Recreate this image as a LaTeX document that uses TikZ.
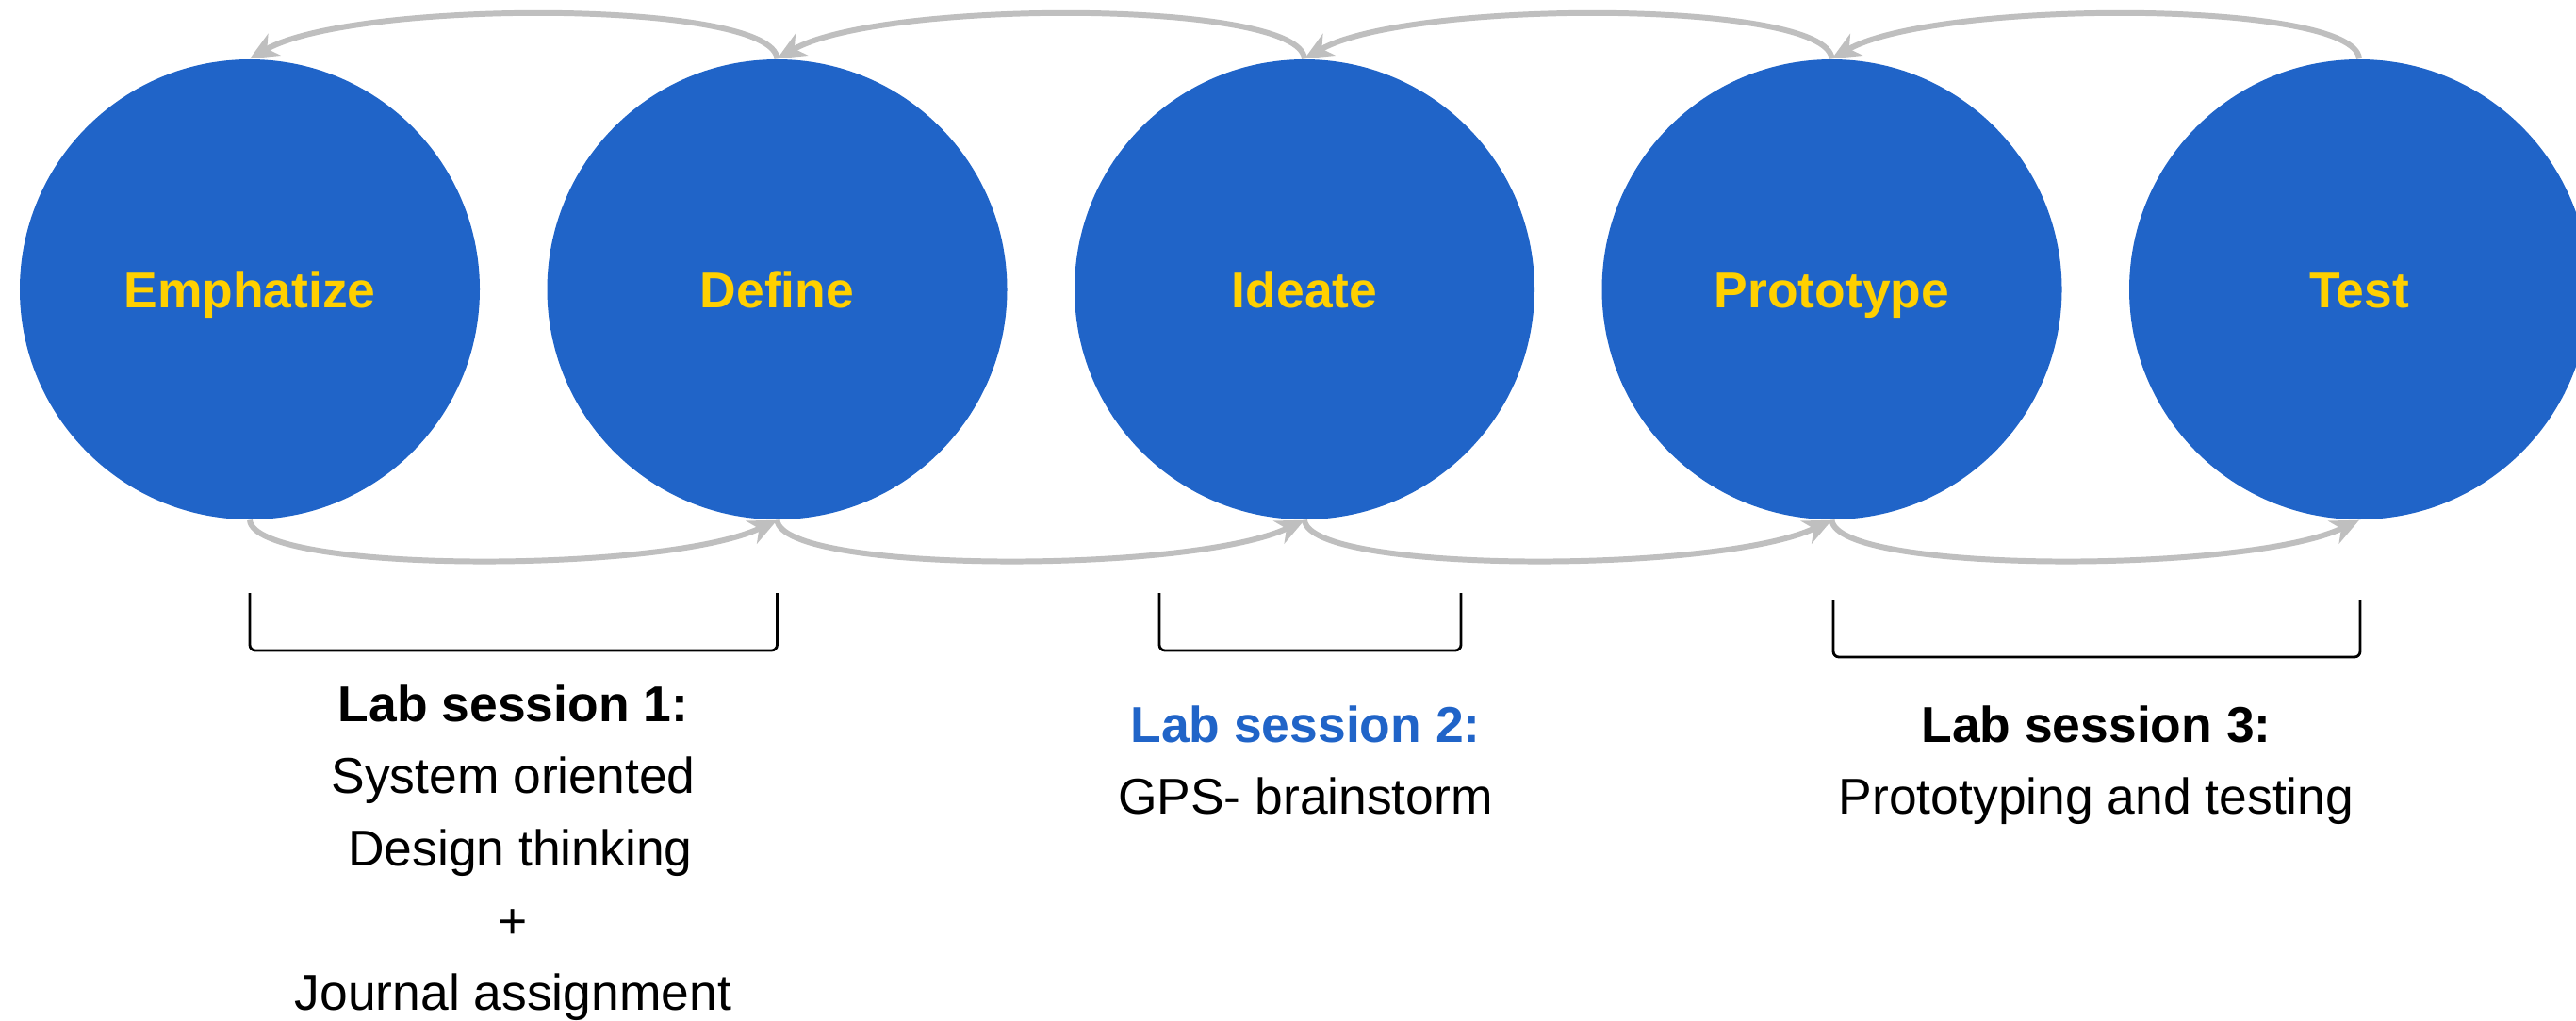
\documentclass[tikz,border=0pt]{standalone}
\usepackage{fontspec}
\setmainfont{Liberation Sans}
\usetikzlibrary{arrows.meta}
\definecolor{Stage}{RGB}{32,100,200}
\definecolor{Label}{RGB}{255,208,0}
\definecolor{Loop}{RGB}{191,191,191}
\tikzset{
    stage/.style={circle, fill=Stage, minimum size=4.88cm, inner sep=0pt,
        text=Label, font=\fontsize{15.2}{18}\selectfont\bfseries,
        text height=10.9pt, text depth=0pt},
    loop arrow/.style={draw=Loop, line width=1.7pt,
        -{Stealth[length=8.5pt, width=7.5pt, inset=2.5pt]}},
    session/.style={anchor=base, font=\fontsize{15.2}{18}\selectfont},
    bracket/.style={line width=0.8pt, rounded corners=0.06cm}
}

\begin{document}
\begin{tikzpicture}
        % Define the dimensions of the row
        \def\gap{5.595} % distance between two stages
        \def\midy{-3.07} % height of the stage centres
        \def\lineskip{0.767} % distance between two text lines

        \useasboundingbox (0,0) rectangle (27.33,-10.82);
        \clip (0,0) rectangle (27.33,-10.82);

        % Draw the five stages
        \foreach \name/\label [count=\i from 0] in {emph/Emphatize, define/Define, ideate/Ideate, proto/Prototype, test/Test} {
            \node[stage] (\name) at (2.65+\i*\gap, \midy) {\label};
        }

        % Add the loops between neighbouring stages
        \foreach \a/\b in {emph/define, define/ideate, ideate/proto, proto/test} {
            \draw[loop arrow] (\b.north) .. controls +(-0.05,0.63) and +(1.1,0.63) .. (\a.north);
            \draw[loop arrow] (\a.south) .. controls +(0.05,-0.57) and +(-1.2,-0.57) .. (\b.south);
        }

        % Draw the brackets under the stages
        \draw[bracket] (2.65,-6.29) -- (2.65,-6.90) -- (8.245,-6.90) -- (8.245,-6.29);
        \draw[bracket] (12.30,-6.29) -- (12.30,-6.90) -- (15.50,-6.90) -- (15.50,-6.29);
        \draw[bracket] (19.45,-6.36) -- (19.45,-6.97) -- (25.04,-6.97) -- (25.04,-6.36);

        % Add the lab sessions
        \node[session] (lab1) at (5.445,-7.65) {\textbf{Lab session 1:}};
        \node[session] (lab1a) at (5.445,-7.65-\lineskip) {System oriented};
        \node[session] (lab1b) at (5.445,-7.65-2*\lineskip) {\ Design thinking};
        \node[session] (lab1c) at (5.445,-7.65-3*\lineskip) {+};
        \node[session] (lab1d) at (5.445,-7.65-4*\lineskip) {Journal assignment};

        \node[session, text=Stage] (lab2) at (13.85,-7.87) {\textbf{Lab session 2:}};
        \node[session] (lab2a) at (13.85,-7.87-\lineskip) {GPS- brainstorm};

        \node[session] (lab3) at (22.24,-7.87) {\textbf{Lab session 3:}};
        \node[session] (lab3a) at (22.24,-7.87-\lineskip) {Prototyping and testing};
    \end{tikzpicture}
\end{document}
